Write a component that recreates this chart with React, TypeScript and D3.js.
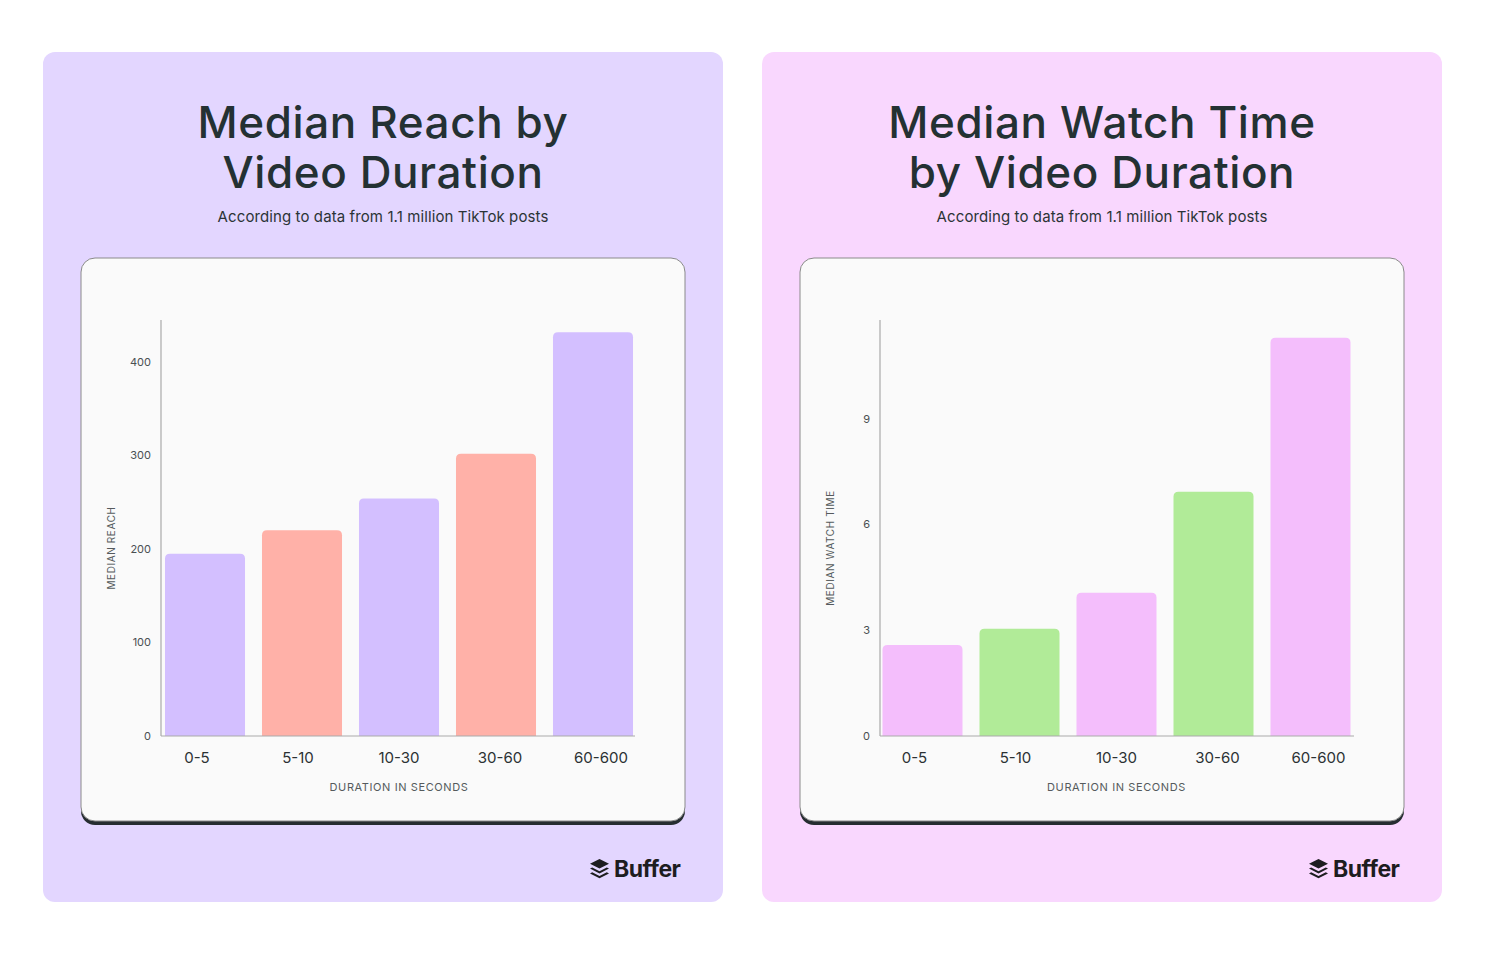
import React from "react";
import * as d3 from "d3";

const durations = ["0-5", "5-10", "10-30", "30-60", "60-600"];
const reachValues = [195, 220, 254, 302, 432];
const reachTicks = [0, 100, 200, 300, 400];
const watchValues = [2.58, 3.04, 4.06, 6.93, 11.3];
const watchTicks = [0, 3, 6, 9];

const FONT = "Inter, 'Noto Sans', sans-serif";

const topRounded = (x: number, y: number, w: number, h: number, r: number) => {
  const rr = Math.min(r, h, w / 2);
  return `M${x},${y + h}V${y + rr}Q${x},${y} ${x + rr},${y}H${x + w - rr}Q${x + w},${y} ${x + w},${y + rr}V${y + h}Z`;
};

const BufferLogo = ({ x, y }: { x: number; y: number }) => (
  <g transform={`translate(${x},${y})`} fill="#1d1d1f">
    <path d="M9.5,0 L19,4.8 L9.5,9.6 L0,4.8 Z" />
    <path d="M0,9.6 L2.2,8.5 L9.5,12.2 L16.8,8.5 L19,9.6 L9.5,14.4 Z" />
    <path d="M0,14.4 L2.2,13.3 L9.5,17 L16.8,13.3 L19,14.4 L9.5,19.2 Z" />
    <text x={24} y={18} fontFamily={FONT} fontWeight={700} fontSize={23} letterSpacing={-0.5}>
      Buffer
    </text>
  </g>
);

type CardProps = {
  x0: number;
  bg: string;
  title: string[];
  yLabel: string;
  values: number[];
  ticks: number[];
  yMax: number;
  colors: string[];
  shift: number;
};

const Card = ({ x0, bg, title, yLabel, values, ticks, yMax, colors, shift }: CardProps) => {
  const px = x0 + 38;
  const axisX = px + 80;
  const y = d3.scaleLinear().domain([0, yMax]).range([736, 320]);
  const x = d3
    .scaleBand<string>()
    .domain(durations)
    .range([axisX - 4.5 + shift, axisX + 480.5 + shift])
    .paddingInner(0.175)
    .paddingOuter(0.0875);
  const xLab = d3
    .scalePoint<string>()
    .domain(durations)
    .range([axisX + 36 + shift, axisX + 440 + shift]);
  const cx = x0 + 340;
  return (
    <g>
      <rect x={x0} y={52} width={680} height={850} rx={12} fill={bg} />
      {title.map((t, i) => (
        <text
          key={t}
          x={cx}
          y={138 + i * 50}
          textAnchor="middle"
          fontFamily={FONT}
          fontWeight={500}
          fontSize={44}
          letterSpacing={0.6}
          fill="#243133"
        >
          {t}
        </text>
      ))}
      <text
        x={cx}
        y={222}
        textAnchor="middle"
        fontFamily={FONT}
        fontSize={15}
        letterSpacing={0.1}
        fill="#2b3436"
      >
        According to data from 1.1 million TikTok posts
      </text>
      <rect x={px} y={261} width={604} height={564} rx={14} fill="#262d31" />
      <rect x={px} y={258} width={604} height={563} rx={14} fill="#fafafa" stroke="#8a8a8a" strokeWidth={1} />
      {values.map((v, i) => (
        <path
          key={durations[i]}
          d={topRounded(x(durations[i])!, y(v), x.bandwidth(), y(0) - y(v), 5)}
          fill={colors[i]}
        />
      ))}
      <line x1={axisX} x2={axisX} y1={320} y2={736} stroke="#a9a9a9" strokeWidth={1.2} />
      <line x1={axisX} x2={axisX + 474} y1={736} y2={736} stroke="#a9a9a9" strokeWidth={1.2} />
      {ticks.map((t) => (
        <text
          key={t}
          x={axisX - 10}
          y={y(t)}
          dy="0.35em"
          textAnchor="end"
          fontFamily={FONT}
          fontSize={11}
          fill="#4a4f52"
        >
          {t}
        </text>
      ))}
      {durations.map((d) => (
        <text
          key={d}
          x={xLab(d)}
          y={763}
          textAnchor="middle"
          fontFamily={FONT}
          fontSize={15}
          fill="#2b3133"
        >
          {d}
        </text>
      ))}
      <text
        x={xLab("10-30")}
        y={791}
        textAnchor="middle"
        fontFamily={FONT}
        fontSize={11}
        letterSpacing={0.6}
        fill="#555a5d"
      >
        DURATION IN SECONDS
      </text>
      <text
        transform={`translate(${px + 34},${y(yMax / 2) + 20}) rotate(-90)`}
        textAnchor="middle"
        fontFamily={FONT}
        fontSize={10}
        letterSpacing={0.6}
        fill="#555a5d"
      >
        {yLabel}
      </text>
      <BufferLogo x={x0 + 547} y={859} />
    </g>
  );
};

export default function App() {
  return (
    <svg
      width={1490}
      height={962}
      style={{ position: "absolute", left: 0, top: 0, background: "#ffffff" }}
    >
      <Card
        x0={43}
        bg="#e3d6ff"
        title={["Median Reach by", "Video Duration"]}
        yLabel="MEDIAN REACH"
        values={reachValues}
        ticks={reachTicks}
        yMax={445}
        colors={["#d3bfff", "#ffb1a8", "#d3bfff", "#ffb1a8", "#d3bfff"]}
        shift={0}
      />
      <Card
        x0={762}
        bg="#f9d7fe"
        title={["Median Watch Time", "by Video Duration"]}
        yLabel="MEDIAN WATCH TIME"
        values={watchValues}
        ticks={watchTicks}
        yMax={11.8}
        colors={["#f4befc", "#b1eb98", "#f4befc", "#b1eb98", "#f4befc"]}
        shift={-1.5}
      />
    </svg>
  );
}
